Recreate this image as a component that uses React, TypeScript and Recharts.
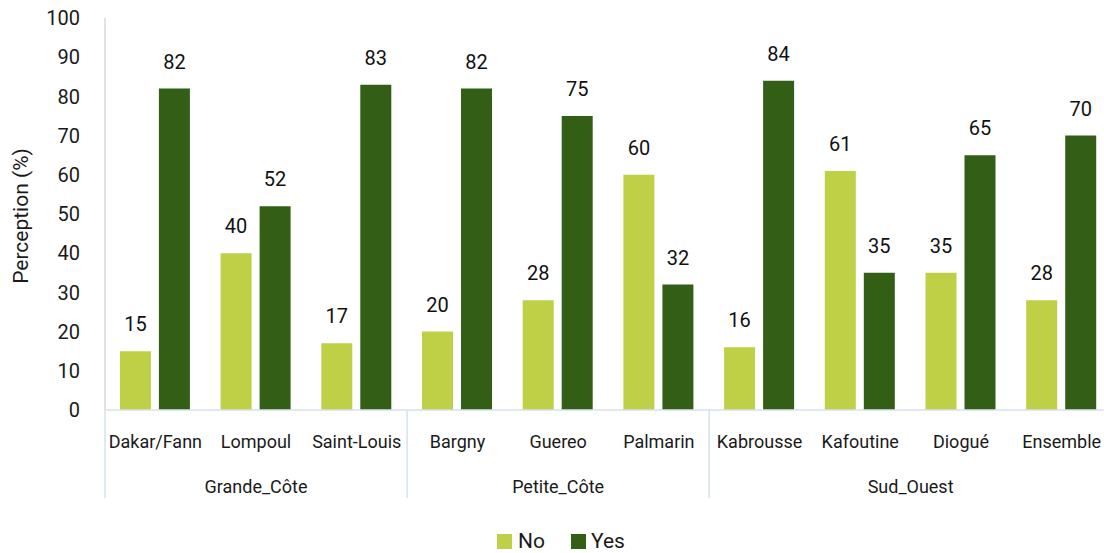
import React from "react";
import { BarChart, Bar, XAxis, YAxis, LabelList } from "recharts";

const categories = ["Dakar/Fann", "Lompoul", "Saint-Louis", "Bargny", "Guereo", "Palmarin", "Kabrousse", "Kafoutine", "Diogué", "Ensemble"];
const groups = ["Grande_Côte", "Grande_Côte", "Grande_Côte", "Petite_Côte", "Petite_Côte", "Petite_Côte", "Sud_Ouest", "Sud_Ouest", "Sud_Ouest", "Sud_Ouest"];
const noValues = [15, 40, 17, 20, 28, 60, 16, 61, 35, 28];
const yesValues = [82, 52, 83, 82, 75, 32, 84, 35, 65, 70];
const yTicks = [0, 10, 20, 30, 40, 50, 60, 70, 80, 90, 100];

const NO_COLOR = "#bfcf46";
const YES_COLOR = "#325f15";
const FONT = "Roboto, sans-serif";

const CHART_W = 1112;
const CHART_H = 553;
const Y_AXIS_W = 105;
const PLOT_W = CHART_W - Y_AXIS_W;

const data = categories.map((site, i) => ({
  site,
  group: groups[i],
  No: noValues[i],
  Yes: yesValues[i],
}));

function SiteTick(props: any) {
  const { x, y, payload } = props;
  const i = payload.index;
  const band = PLOT_W / categories.length;
  const group = groups[i];
  const firstIdx = groups.indexOf(group);
  const count = groups.filter((g) => g === group).length;
  const isFirst = i === firstIdx;
  const groupCenter = x - band / 2 + (count * band) / 2;
  return (
    <g>
      <text x={x} y={y + 31} textAnchor="middle" dominantBaseline="central" fill="#1a1a1a" fontSize={18} fontFamily={FONT}>
        {payload.value}
      </text>
      {isFirst && (
        <>
          <line x1={x - band / 2} x2={x - band / 2} y1={y} y2={y + 88} stroke="#d6e1f1" strokeWidth={1.5} />
          <text x={groupCenter} y={y + 76} textAnchor="middle" dominantBaseline="central" fill="#1a1a1a" fontSize={18} fontFamily={FONT}>
            {group}
          </text>
        </>
      )}
    </g>
  );
}

function YLabel(props: any) {
  const { viewBox } = props;
  const cx = 21;
  const cy = viewBox.y + viewBox.height / 2 + 2;
  return (
    <text x={cx} y={cy} transform={`rotate(-90, ${cx}, ${cy})`} textAnchor="middle" dominantBaseline="central" fill="#1a1a1a" fontSize={21} fontFamily={FONT}>
      Perception (%)
    </text>
  );
}

export default function App() {
  return (
    <div style={{ position: "absolute", left: 0, top: 0, width: 1104, height: CHART_H, overflow: "hidden", background: "#fff", fontFamily: FONT }}>
      <BarChart
        width={CHART_W}
        height={CHART_H}
        data={data}
        margin={{ top: 18, right: 0, left: 0, bottom: 0 }}
        barCategoryGap="14.8%"
        barGap={8}
      >
        <XAxis
          dataKey="site"
          interval={0}
          height={143}
          tickSize={0}
          tickMargin={0}
          tickLine={false}
          axisLine={{ stroke: "#d6e1f1", strokeWidth: 1.5 }}
          tick={<SiteTick />}
        />
        <YAxis
          width={Y_AXIS_W}
          domain={[0, 100]}
          ticks={yTicks}
          interval={0}
          tickSize={0}
          tickMargin={25}
          tickLine={false}
          axisLine={{ stroke: "#d9d9d9", strokeWidth: 1.5 }}
          tick={{ fill: "#1a1a1a", fontSize: 20, fontFamily: FONT }}
          label={<YLabel />}
        />
        <Bar dataKey="No" fill={NO_COLOR} isAnimationActive={false}>
          <LabelList dataKey="No" position="top" offset={20} fill="#111" fontSize={20} fontFamily={FONT} />
        </Bar>
        <Bar dataKey="Yes" fill={YES_COLOR} isAnimationActive={false}>
          <LabelList dataKey="Yes" position="top" offset={20} fill="#111" fontSize={20} fontFamily={FONT} />
        </Bar>
      </BarChart>
      <div style={{ position: "absolute", top: 529, left: 497, display: "flex", alignItems: "center", fontSize: 21, color: "#1a1a1a" }}>
        <span style={{ width: 15, height: 15, background: NO_COLOR, display: "inline-block", marginRight: 6 }} />
        <span style={{ marginRight: 26 }}>No</span>
        <span style={{ width: 15, height: 15, background: YES_COLOR, display: "inline-block", marginRight: 5 }} />
        <span>Yes</span>
      </div>
    </div>
  );
}
